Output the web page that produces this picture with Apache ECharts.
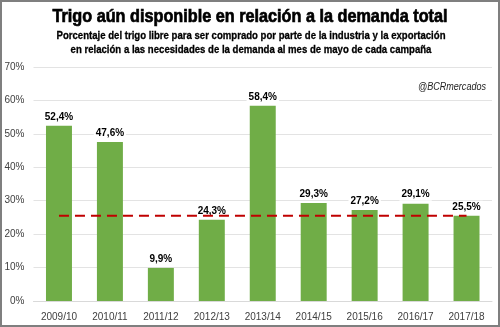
<!DOCTYPE html>
<html><head><meta charset="utf-8">
<script src="https://cdn.jsdelivr.net/npm/echarts@6/dist/echarts.min.js"></script>
<style>html,body{margin:0;padding:0;background:#fff}#c{width:500px;height:327px}</style>
</head><body><div id="c"></div>
<script>
var categories = ['2009/10','2010/11','2011/12','2012/13','2013/14','2014/15','2015/16','2016/17','2017/18'];
var values = [52.4, 47.6, 9.9, 24.3, 58.4, 29.3, 27.2, 29.1, 25.5];
var refLine = [25.5, 25.5, 25.5, 25.5, 25.5, 25.5, 25.5, 25.5, 25.5];
var yTicks = [0, 10, 20, 30, 40, 50, 60, 70];
var titleText = 'Trigo aún disponible en relación a la demanda total';
var subLine1 = 'Porcentaje del trigo libre para ser comprado por parte de la industria y la exportación';
var subLine2 = 'en relación a las necesidades de la demanda al mes de mayo de cada campaña';
var watermark = '@BCRmercados';

var ctx = document.createElement('canvas').getContext('2d');
function fit(text, font, target){ ctx.font = font; return target / ctx.measureText(text).width; }

var fam = '"Liberation Sans",Arial,sans-serif';
var titleFont = 'bold 19px ' + fam;
var subFont = 'bold 11px ' + fam;
var wmFont = 'italic 10px ' + fam;
var tScale = fit(titleText, titleFont, 395);
var sScale = fit(subLine1, subFont, 389);
var wScale = fit(watermark, wmFont, 68);

var chart = echarts.init(document.getElementById('c'), null, {renderer:'canvas'});
chart.setOption({
  animation:false,
  backgroundColor:'#fff',
  graphic:[
    {type:'rect', shape:{x:1, y:1, width:498, height:325}, style:{fill:'none', stroke:'#7f7f7f', lineWidth:2}, z:100},
    {type:'text', x:250, y:17, scaleX:tScale, style:{text:titleText, font:titleFont, fill:'#000', stroke:'#000', lineWidth:0.7, align:'center', verticalAlign:'middle'}},
    {type:'text', x:251, y:36, scaleX:sScale, style:{text:subLine1, font:subFont, fill:'#000', stroke:'#000', lineWidth:0.3, align:'center', verticalAlign:'middle'}},
    {type:'text', x:251, y:50, scaleX:sScale, style:{text:subLine2, font:subFont, fill:'#000', stroke:'#000', lineWidth:0.3, align:'center', verticalAlign:'middle'}},
    {type:'text', x:486, y:87, scaleX:wScale, style:{text:watermark, font:wmFont, fill:'#222', align:'right', verticalAlign:'middle'}}
  ],
  grid:{left:33.5, right:8, top:67, bottom:26, containLabel:false},
  xAxis:{type:'category', data:categories,
    axisLine:{show:true, lineStyle:{color:'#d9d9d9'}}, axisTick:{show:false},
    axisLabel:{color:'#404040', fontSize:10, margin:11, fontFamily:fam, interval:0}},
  yAxis:{type:'value', min:0, max:70, interval:10,
    axisLine:{show:false}, axisTick:{show:false},
    splitLine:{lineStyle:{color:'#e3e3e3'}},
    axisLabel:{color:'#404040', fontSize:10, margin:9, fontFamily:fam,
      formatter:function(v){return yTicks.indexOf(v)>=0 ? v+'%' : '';}}},
  series:[
    {type:'bar', data:values, barWidth:'51%', itemStyle:{color:'#70AD47'},
      label:{show:true, position:'top', distance:3, color:'#000', fontWeight:'bold', fontSize:10, fontFamily:fam,
        backgroundColor:'#fff', padding:[1,2],
        formatter:function(p){return p.value.toFixed(1).replace('.',',')+'%';}}},
    {type:'line', data:refLine, symbol:'none', z:5,
      lineStyle:{color:'#C00000', width:2, type:[10,6]}}
  ]
});
</script></body></html>
